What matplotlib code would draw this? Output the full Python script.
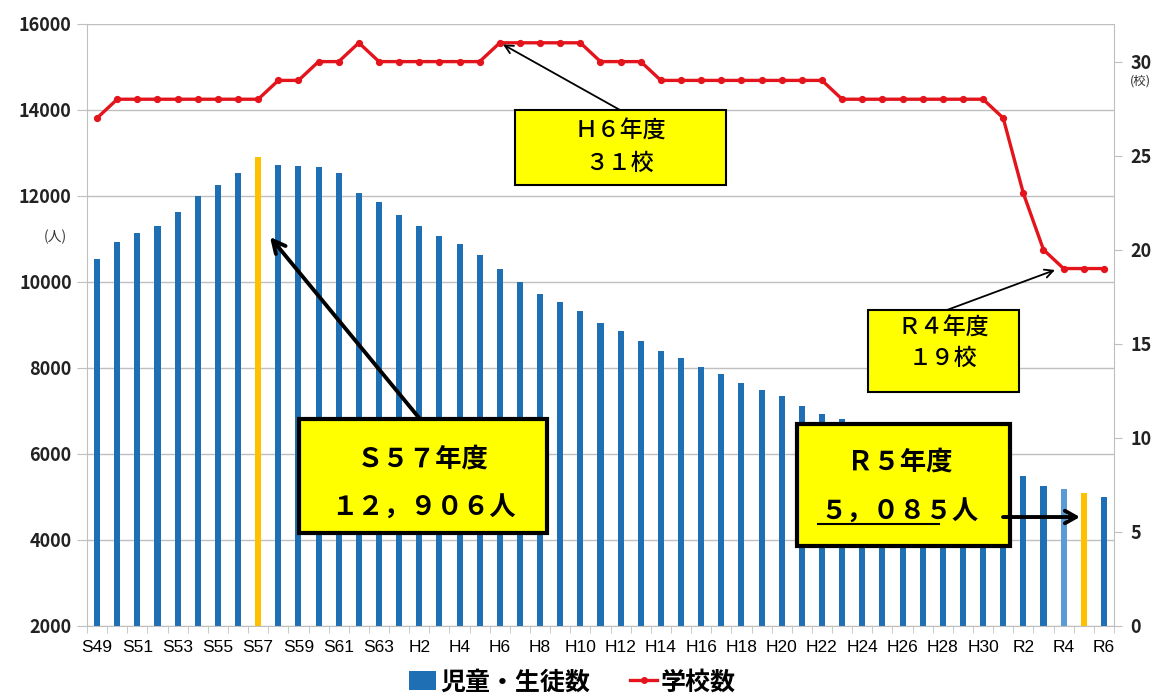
import matplotlib
matplotlib.use("Agg")
import matplotlib.pyplot as plt
from matplotlib.patches import Rectangle, Patch
from matplotlib.lines import Line2D
import numpy as np

plt.rcParams['font.family'] = ['Noto Sans CJK JP', 'DejaVu Sans']

# fiscal years (Showa / Heisei / Reiwa)
years = ['S49', 'S50', 'S51', 'S52', 'S53', 'S54', 'S55', 'S56', 'S57', 'S58',
         'S59', 'S60', 'S61', 'S62', 'S63',
         'H1', 'H2', 'H3', 'H4', 'H5', 'H6', 'H7', 'H8', 'H9', 'H10',
         'H11', 'H12', 'H13', 'H14', 'H15', 'H16', 'H17', 'H18', 'H19', 'H20',
         'H21', 'H22', 'H23', 'H24', 'H25', 'H26', 'H27', 'H28', 'H29', 'H30',
         'R1', 'R2', 'R3', 'R4', 'R5', 'R6']

# number of pupils/students (人)
students = [10540, 10935, 11140, 11300, 11630, 11995, 12250, 12545, 12906, 12720,
            12700, 12665, 12545, 12065, 11870,
            11565, 11300, 11075, 10890, 10620, 10300, 9995, 9725, 9540, 9330,
            9035, 8850, 8635, 8405, 8230, 8025, 7865, 7655, 7480, 7350,
            7105, 6920, 6810, 6690, 6540, 6380, 6220, 6060, 5900, 5750,
            5620, 5490, 5255, 5195, 5085, 4995]

# number of schools (校)
schools = [27, 28, 28, 28, 28, 28, 28, 28, 28, 29,
           29, 30, 30, 31, 30,
           30, 30, 30, 30, 30, 31, 31, 31, 31, 31,
           30, 30, 30, 29, 29, 29, 29, 29, 29, 29,
           29, 29, 28, 28, 28, 28, 28, 28, 28, 28,
           27, 23, 20, 19, 19, 19]

blue = '#1f6fb4'
light_blue = '#5b9bd5'
gold = '#ffc000'
red = '#e3141b'
grid_c = '#bfbfbf'

x = np.arange(len(years))
colors = [blue] * len(years)
colors[years.index('S57')] = gold
colors[years.index('R4')] = light_blue
colors[years.index('R5')] = gold

fig = plt.figure(figsize=(11.54, 6.95), dpi=100)
ax = fig.add_axes([0.0754, 0.0993, 0.8899, 0.8662])
ax.bar(x, students, width=0.3, color=colors, zorder=2)
ax.set_ylim(2000, 16000)
ax.set_xlim(-0.5, len(years) - 0.5)
ax.set_yticks(range(2000, 16001, 2000))
ax.yaxis.grid(True, color=grid_c, lw=1, zorder=0)
ax.tick_params(axis='y', length=7, color=grid_c, labelsize=13, pad=4)
for t in ax.get_yticklabels():
    t.set_fontweight('bold')
    t.set_color('#222222')

ax.set_xticks(x[::2])
ax.set_xticklabels(years[::2], fontsize=12.5, family=['Liberation Sans', 'DejaVu Sans'])
ax.set_xticks(np.arange(-0.5, len(years), 1), minor=True)
ax.tick_params(axis='x', which='major', length=0, pad=10)
ax.tick_params(axis='x', which='minor', length=5, color=grid_c)
for s in ['left', 'right', 'bottom']:
    ax.spines[s].set_color(grid_c)
ax.spines['top'].set_visible(False)
ax.text(-0.031, 0.6462, '(人)', transform=ax.transAxes, fontsize=10,
        ha='center', va='center', color='#333333')

ax2 = ax.twinx()
ax2.plot(x, schools, color=red, lw=2.4, marker='o', markersize=4.2, zorder=3)
ax2.set_ylim(0, 32)
ax2.set_yticks(range(0, 31, 5))
ax2.tick_params(axis='y', length=6, color=grid_c, labelsize=13, pad=6)
for t in ax2.get_yticklabels():
    t.set_fontweight('bold')
    t.set_color('#222222')
for s in ['left', 'right', 'bottom', 'top']:
    ax2.spines[s].set_visible(False)
ax2.text(1.026, 0.905, '(校)', transform=ax2.transAxes, fontsize=9,
         ha='center', va='center', color='#333333')


def callout(x0, x1, y0, y1, lines, ys, xc, size, weight, lw):
    ax2.add_patch(Rectangle((x0, y0), x1 - x0, y1 - y0, transform=ax2.transAxes,
                            facecolor='#ffff00', edgecolor='black', lw=lw, zorder=10,
                            clip_on=False))
    for txt, yy in zip(lines, ys):
        ax2.text(xc, yy, txt, transform=ax2.transAxes, ha='center', va='center',
                 fontsize=size, fontweight=weight, zorder=11)


def arrow(start, end, lw, head):
    ax2.annotate('', xy=end, xytext=start, xycoords='axes fraction',
                 textcoords='axes fraction',
                 arrowprops=dict(arrowstyle='->,head_length=%s,head_width=%s' % head,
                                 color='black', lw=lw, shrinkA=0, shrinkB=0),
                 zorder=12)


# S57 peak
callout(0.2064, 0.4479, 0.1545, 0.3439, ['Ｓ５７年度', '１２，９０６人'],
        [0.2774, 0.196], 0.3272, 19, 'bold', 3)
arrow((0.3242, 0.3439), (0.1782, 0.6462), 2.8, (0.9, 0.45))

# H6 schools
callout(0.4167, 0.6222, 0.7326, 0.8571, ['Ｈ６年度', '３１校'],
        [0.8223, 0.7691], 0.519, 16.5, 'medium', 1.5)
arrow((0.519, 0.8571), (0.405, 0.966), 1.3, (0.6, 0.3))

# R4 schools
callout(0.7605, 0.9075, 0.3887, 0.5249, ['Ｒ４年度', '１９校'],
        [0.495, 0.445], 0.8335, 16.5, 'medium', 1.5)
arrow((0.8374, 0.5249), (0.9426, 0.5914), 1.3, (0.6, 0.3))

# R5 students
callout(0.6913, 0.8987, 0.1329, 0.3355, ['Ｒ５年度', '５，０８５人'],
        [0.2724, 0.1894], 0.7916, 19, 'bold', 3)
ax2.plot([0.7118, 0.8296], [0.1700, 0.1700], transform=ax2.transAxes,
         color='black', lw=1.5, zorder=11)
arrow((0.892, 0.181), (0.9669, 0.181), 2.8, (0.8, 0.45))

handles = [Patch(facecolor=blue), Line2D([], [], color=red, lw=2.4, marker='o', markersize=4)]
fig.legend(handles, ['児童・生徒数', '学校数'], loc='center', bbox_to_anchor=(0.496, 0.018),
           ncol=2, frameon=False, prop={'size': 18, 'weight': 'bold'},
           handlelength=1.1, handleheight=0.8, handletextpad=0.15, columnspacing=1.6)

fig.savefig('out.png', dpi=100)
